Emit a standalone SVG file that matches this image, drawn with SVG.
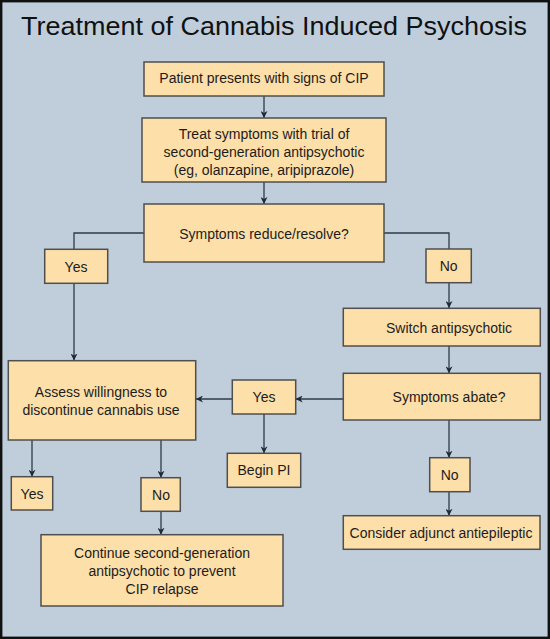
<svg xmlns="http://www.w3.org/2000/svg" width="550" height="639" viewBox="0 0 550 639">
  <style>
    .box { fill: #FDDFA9; stroke: #4f4f4f; stroke-width: 1.5; }
    .lbl { font-family: "Liberation Sans", Arial, sans-serif; font-size: 14px; fill: #1c1c1c; text-anchor: middle; }
    .title { font-family: "Liberation Sans", Arial, sans-serif; font-size: 25px; fill: #111; }
    .conn { fill: none; stroke: #2e3a48; stroke-width: 1.3; }
  </style>
  <defs>
    <marker id="arr" viewBox="0 0 10 10" refX="10" refY="5" markerWidth="7" markerHeight="7" markerUnits="userSpaceOnUse" orient="auto">
      <path d="M0,0 L10,5 L0,10 L3,5 Z" fill="#1f2a36"/>
    </marker>
  </defs>
  <rect x="0" y="0" width="550" height="639" fill="#BFCEDA"/>
  <rect x="1.2" y="1.2" width="547.6" height="636.6" fill="none" stroke="#111" stroke-width="2.4"/>
  <text class="title" x="21" y="35" textLength="506" lengthAdjust="spacingAndGlyphs">Treatment of Cannabis Induced Psychosis</text>

  <g id="connectors">
    <path class="conn" d="M264,96 V118" marker-end="url(#arr)"/>
    <path class="conn" d="M264,182 V204" marker-end="url(#arr)"/>
    <path class="conn" d="M144,233 H74 V249"/>
    <path class="conn" d="M74,283.5 V360.5" marker-end="url(#arr)"/>
    <path class="conn" d="M384,233 H449 V249"/>
    <path class="conn" d="M449,283 V308" marker-end="url(#arr)"/>
    <path class="conn" d="M449,346 V373.3" marker-end="url(#arr)"/>
    <path class="conn" d="M343.3,399 H295.7" marker-end="url(#arr)"/>
    <path class="conn" d="M232.3,399 H196" marker-end="url(#arr)"/>
    <path class="conn" d="M264,414 V453.3" marker-end="url(#arr)"/>
    <path class="conn" d="M449,420 V457.7" marker-end="url(#arr)"/>
    <path class="conn" d="M449,491.7 V515.7" marker-end="url(#arr)"/>
    <path class="conn" d="M32,440 V476.7" marker-end="url(#arr)"/>
    <path class="conn" d="M161,440 V477.7" marker-end="url(#arr)"/>
    <path class="conn" d="M161,511.3 V534.7" marker-end="url(#arr)"/>
  </g>

  <g id="n-present">
    <rect class="box" x="144" y="62" width="240" height="34"/>
    <text class="lbl" x="264" y="82.5">Patient presents with signs of CIP</text>
  </g>
  <g id="n-treat">
    <rect class="box" x="142" y="118" width="244" height="64"/>
    <text class="lbl" x="264" y="138.5">Treat symptoms with trial of</text>
    <text class="lbl" x="264" y="157">second-generation antipsychotic</text>
    <text class="lbl" x="264" y="175">(eg, olanzapine, aripiprazole)</text>
  </g>
  <g id="n-reduce">
    <rect class="box" x="144" y="204" width="240" height="58"/>
    <text class="lbl" x="264" y="238.5">Symptoms reduce/resolve?</text>
  </g>
  <g id="n-yes1">
    <rect class="box" x="44.7" y="249.3" width="63" height="34"/>
    <text class="lbl" x="76" y="271.5">Yes</text>
  </g>
  <g id="n-no1">
    <rect class="box" x="426" y="249" width="45.3" height="33.7"/>
    <text class="lbl" x="448.7" y="271">No</text>
  </g>
  <g id="n-switch">
    <rect class="box" x="343.3" y="308.3" width="197" height="37.7"/>
    <text class="lbl" x="449" y="332.7">Switch antipsychotic</text>
  </g>
  <g id="n-abate">
    <rect class="box" x="343.3" y="373.3" width="197" height="46.7"/>
    <text class="lbl" x="449" y="402">Symptoms abate?</text>
  </g>
  <g id="n-yes2">
    <rect class="box" x="232.3" y="380" width="63.4" height="34"/>
    <text class="lbl" x="264" y="402">Yes</text>
  </g>
  <g id="n-assess">
    <rect class="box" x="8.3" y="360.7" width="187.4" height="79.3"/>
    <text class="lbl" x="101" y="396.5">Assess willingness to</text>
    <text class="lbl" x="101" y="415">discontinue cannabis use</text>
  </g>
  <g id="n-beginpi">
    <rect class="box" x="227.3" y="453.3" width="73.4" height="34"/>
    <text class="lbl" x="264" y="475">Begin PI</text>
  </g>
  <g id="n-yes3">
    <rect class="box" x="11.3" y="476.7" width="41.4" height="33.3"/>
    <text class="lbl" x="32" y="498.5">Yes</text>
  </g>
  <g id="n-no3">
    <rect class="box" x="141" y="477.7" width="39.3" height="33.6"/>
    <text class="lbl" x="161" y="499.5">No</text>
  </g>
  <g id="n-no2">
    <rect class="box" x="429.7" y="457.7" width="40.3" height="34"/>
    <text class="lbl" x="449.7" y="480">No</text>
  </g>
  <g id="n-consider">
    <rect class="box" x="343.3" y="515.7" width="196.7" height="33.6"/>
    <text class="lbl" x="441" y="537.7">Consider adjunct antiepileptic</text>
  </g>
  <g id="n-continue">
    <rect class="box" x="41" y="534.7" width="242" height="71.3"/>
    <text class="lbl" x="162" y="557.7">Continue second-generation</text>
    <text class="lbl" x="162" y="575.7">antipsychotic to prevent</text>
    <text class="lbl" x="162" y="593.7">CIP relapse</text>
  </g>
</svg>
